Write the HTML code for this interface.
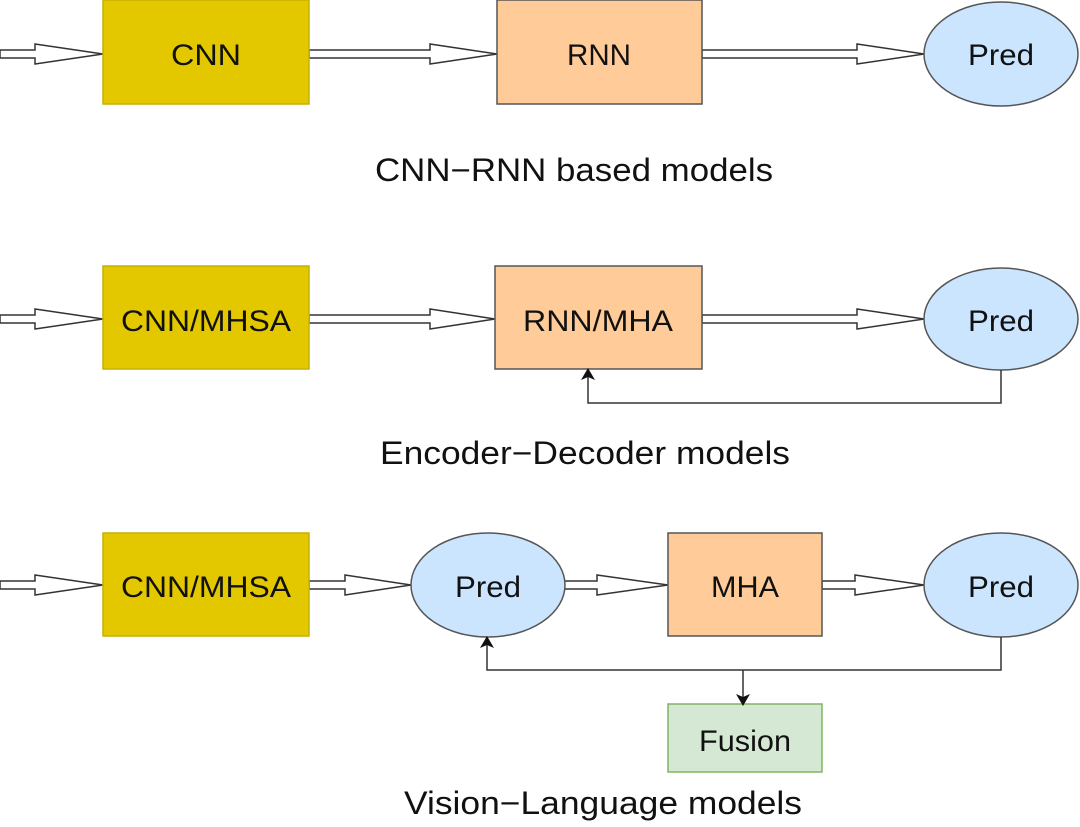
<!DOCTYPE html>
<html><head><meta charset="utf-8"><style>
html,body{margin:0;padding:0;background:#fff;}
svg{display:block}
text{font-family:"Liberation Sans",Arial,sans-serif;fill:#111;}
</style></head><body>
<svg width="1080" height="827" viewBox="0 0 1080 827" xmlns="http://www.w3.org/2000/svg">
<defs>
<marker id="ah" markerWidth="12" markerHeight="14" refX="6" refY="7" orient="auto" markerUnits="userSpaceOnUse">
<path d="M0,0 L12,7 L0,14 L3,7 Z" fill="#111"/>
</marker>
</defs>
<g stroke="#333" stroke-width="1.5" fill="#fff">
<path d="M0,50 L35,50 L35,44 L103,54 L35,64 L35,58 L0,58 Z"/>
<path d="M309,50 L430,50 L430,44 L497,54 L430,64 L430,58 L309,58 Z"/>
<path d="M702,50 L857,50 L857,44 L924,54 L857,64 L857,58 L702,58 Z"/>
<path d="M0,315 L35,315 L35,309 L103,319 L35,329 L35,323 L0,323 Z"/>
<path d="M309,315 L430,315 L430,309 L495,319 L430,329 L430,323 L309,323 Z"/>
<path d="M702,315 L857,315 L857,309 L924,319 L857,329 L857,323 L702,323 Z"/>
<path d="M0,581 L35,581 L35,575 L103,585 L35,595 L35,589 L0,589 Z"/>
<path d="M309,581 L345,581 L345,575 L411,585 L345,595 L345,589 L309,589 Z"/>
<path d="M564,581 L597,581 L597,575 L668,585 L597,595 L597,589 L564,589 Z"/>
<path d="M822,581 L855,581 L855,575 L924,585 L855,595 L855,589 L822,589 Z"/>
</g>
<rect x="103" y="0" width="206" height="104" fill="#e3c800" stroke="#c8b000" stroke-width="1.5"/>
<rect x="497" y="0" width="205" height="104" fill="#ffcc99" stroke="#555" stroke-width="1.5"/>
<ellipse cx="1001" cy="54" rx="77" ry="52" fill="#cce5ff" stroke="#555" stroke-width="1.5"/>

<rect x="103" y="266" width="206" height="103" fill="#e3c800" stroke="#c8b000" stroke-width="1.5"/>
<rect x="495" y="266" width="207" height="103" fill="#ffcc99" stroke="#555" stroke-width="1.5"/>
<ellipse cx="1001" cy="319" rx="77" ry="51" fill="#cce5ff" stroke="#555" stroke-width="1.5"/>

<rect x="103" y="533" width="206" height="103" fill="#e3c800" stroke="#c8b000" stroke-width="1.5"/>
<ellipse cx="488" cy="585" rx="77" ry="52" fill="#cce5ff" stroke="#555" stroke-width="1.5"/>
<rect x="668" y="533" width="154" height="103" fill="#ffcc99" stroke="#555" stroke-width="1.5"/>
<ellipse cx="1001" cy="585" rx="77" ry="52" fill="#cce5ff" stroke="#555" stroke-width="1.5"/>
<rect x="668" y="704" width="154" height="68" fill="#d5e8d4" stroke="#82b366" stroke-width="1.5"/>

<g stroke="#333" stroke-width="1.5" fill="none">
<path d="M1001,370 L1001,403 L588,403 L588,374" marker-end="url(#ah)"/>
<path d="M1001,637 L1001,670 L487,670 L487,642" marker-end="url(#ah)"/>
<path d="M743,670 L743,700" marker-end="url(#ah)"/>
</g>

<g font-size="30" text-anchor="middle">
<text x="206" y="65" textLength="70" lengthAdjust="spacingAndGlyphs">CNN</text>
<text x="599" y="65" textLength="64" lengthAdjust="spacingAndGlyphs">RNN</text>
<text x="1001" y="65" textLength="66" lengthAdjust="spacingAndGlyphs">Pred</text>
<text x="206" y="331" textLength="170" lengthAdjust="spacingAndGlyphs">CNN/MHSA</text>
<text x="598" y="331" textLength="150" lengthAdjust="spacingAndGlyphs">RNN/MHA</text>
<text x="1001" y="331" textLength="66" lengthAdjust="spacingAndGlyphs">Pred</text>
<text x="206" y="597" textLength="170" lengthAdjust="spacingAndGlyphs">CNN/MHSA</text>
<text x="488" y="597" textLength="66" lengthAdjust="spacingAndGlyphs">Pred</text>
<text x="745" y="597" textLength="68" lengthAdjust="spacingAndGlyphs">MHA</text>
<text x="1001" y="597" textLength="66" lengthAdjust="spacingAndGlyphs">Pred</text>
<text x="745" y="751" textLength="92" lengthAdjust="spacingAndGlyphs">Fusion</text>
</g>
<g font-size="32" text-anchor="middle">
<text x="574" y="181" textLength="398" lengthAdjust="spacingAndGlyphs">CNN−RNN based models</text>
<text x="585" y="464" textLength="410" lengthAdjust="spacingAndGlyphs">Encoder−Decoder models</text>
<text x="603" y="814" textLength="398" lengthAdjust="spacingAndGlyphs">Vision−Language models</text>
</g>
</svg>
</body></html>
